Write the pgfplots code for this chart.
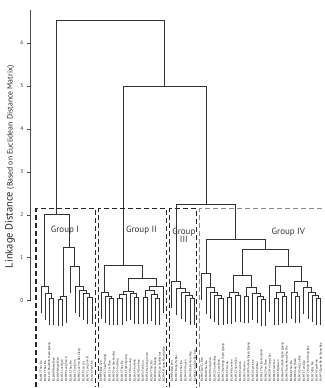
\documentclass[border=0pt]{standalone}
\usepackage{pgfplots}
\usepackage{pgfplotstable}
\usepackage{fontspec}
\setmainfont{PT Sans}
\pgfplotsset{compat=1.18}

\pgfplotstableread[col sep=comma]{
x,y,label
41,-1.88,BL.M17 Thac Ba
45.25,-1.88,BL.M17 Thac Ba
49.5,-1.88,BL.1/77 Phu Ninh Tuyen Quang
53.75,-1.88,BL.M08 Nham Bien
58,-1.88,BL.M09 Nham Bien
62.25,-1.88,BL.M21 Luc Ngan
66.5,-1.88,BL.M03 Lang Son A
70.75,-1.88,BL.M11 Thac Ba
75,-1.88,BL.M15 Yen Binh
79.25,-1.88,BL.M02 Luc Yen Bac Giang
83.5,-1.88,BL.M18 Cao Loc
87.75,-1.88,BL.M27 Lang Son B
92,-1.88,BL.M24 Yen The
101,-1.88,BL.M05 Bac Son
105.2,-1.88,BL.M31 Chau Phuong
109.4,-1.88,BL.M12 Lai Chau
113.6,-1.88,BL.M29 Van Yen Yen Bai
117.8,-1.88,BL.M33 Chu Dong
122,-1.88,BL.M13 Thac Ba
126.2,-1.88,BL.M16 Tuyen Quang
130.4,-1.88,BL.M19 Huu Lung
134.6,-1.88,BL.M26 Phu Ninh
138.8,-1.88,BL.M14 Dinh Hoa
143,-1.88,BL.M35 Yen Son
147.2,-1.88,BL.M36 Ha Giang Xuan
151.4,-1.88,BL.M37 Thac Ba
155.6,-1.88,BL.M38 Son Duong
159.8,-1.88,BL.M40 Lao Cai Bat Xat
164,-1.88,BL.M41 Muong Khuong Bay
172,-1.88,BL.M06 Bao Yen
176.6,-1.88,BL.M07 Dong Hy Bac
181.2,-1.88,BL.M42 Thac Ba
185.8,-1.88,BL.M44 Vi Xuyen
190.4,-1.88,BL.M45 Ba Be Nam Mau
195,-1.88,BL.M46 Cho Don Bac Kan
202,-1.88,BL.M47 Dai Tu Ban
206.25,-1.88,BL.M48 Thac Ba
210.5,-1.88,BL.M49 Huong Son
214.75,-1.88,BL.M50 Cho Moi Bac
219,-1.88,BL.M51 Lam Binh
223.25,-1.88,BL.M52 Na Hang Tuyen Quang
227.5,-1.88,BL.M53 Yen Lap
231.75,-1.88,BL.M54 Ham Yen
236,-1.88,BL.M55 Thanh Son
240.25,-1.88,BL.M56 Tan Son
244.5,-1.88,BL.M57 Ha Hoa
248.75,-1.88,BL.M58 Phu Ninh Tuyen Quang
253,-1.88,BL.M59 Cam Khe
257.25,-1.88,BL.M60 Yen Bai
261.5,-1.88,BL.M61 Thac Ba Yen Binh
265.75,-1.88,BL.M62 Van Chan
270,-1.88,BL.M63 Mu Cang Chai
274.25,-1.88,BL.M64 Tram Tau
278.5,-1.88,BL.M65 Nghia Lo
282.75,-1.88,BL.M66 Phu Ninh Tuyen Quang
287,-1.88,BL.M67 Doan Hung Phu Tho
291.25,-1.88,BL.M68 Thac Ba
295.5,-1.88,BL.M69 Lap Thach
299.75,-1.88,BL.M70 Song Lo Bay
304,-1.88,BL.M71 Tam Dao
308.25,-1.88,BL.M72 Hung Son Dong Bay
312.5,-1.88,BL.M73 Bac Me
316.75,-1.88,BL.M74 Yen Minh
321,-1.88,BL.M75 Quan Ba Ha Giang Bay
}\leaflabels

\begin{document}
\begin{tikzpicture}
\begin{axis}[
  scale only axis, width=295pt, height=291pt,
  xmin=30, xmax=325, ymin=0, ymax=6.77,
  axis x line=none, axis y line=left,
  axis line style={-, black!70, line width=0.6pt},
  ytick={0,1,2,3,4,5,6}, tick align=outside, major tick length=3pt,
  tick style={black!70, line width=0.5pt},
  yticklabel style={font=\fontsize{5.5}{5.5}\selectfont, text=black!80},
  /pgf/number format/assume math mode=true,
  clip=false, unbounded coords=jump,
  ylabel={{\fontsize{10.5}{10.5}\selectfont Linkage Distance} {\fontsize{7.8}{7.8}\selectfont(Based on Euclidean Distance Matrix)}},
  ylabel style={at={(axis description cs:-0.068,0.46)}, anchor=center, text=black!85},
]
% bounding box of the whole figure
\path (axis cs:0,-2.02) rectangle (axis cs:325,7.0);

% dendrogram links
\addplot[black!80, line width=0.8pt] coordinates {
(49.5,-0.57)(49.5,0.05)(53.75,0.05)(53.75,-0.57) (nan,nan)
(45.25,-0.46)(45.25,0.16)(51.625,0.16)(51.625,0.05) (nan,nan)
(41,-0.29)(41,0.33)(48.44,0.33)(48.44,0.16) (nan,nan)
(58,-0.59)(58,0.03)(62.25,0.03)(62.25,-0.59) (nan,nan)
(60.125,0.03)(60.125,0.09)(66.5,0.09)(66.5,-0.53) (nan,nan)
(87.75,-0.54)(87.75,0.08)(92,0.08)(92,-0.54) (nan,nan)
(83.5,-0.44)(83.5,0.18)(89.875,0.18)(89.875,0.08) (nan,nan)
(79.25,-0.39)(79.25,0.23)(86.69,0.23)(86.69,0.18) (nan,nan)
(75,-0.29)(75,0.33)(82.97,0.33)(82.97,0.23) (nan,nan)
(70.75,0.18)(70.75,0.8)(78.98,0.8)(78.98,0.33) (nan,nan)
(63.31,0.09)(63.31,1.23)(74.87,1.23)(74.87,0.8) (nan,nan)
(44.72,0.33)(44.72,2.0)(69.09,2.0)(69.09,1.23) (nan,nan)
(109.4,-0.57)(109.4,0.05)(113.6,0.05)(113.6,-0.57) (nan,nan)
(105.2,-0.52)(105.2,0.1)(111.5,0.1)(111.5,0.05) (nan,nan)
(101,-0.43)(101,0.19)(108.35,0.19)(108.35,0.1) (nan,nan)
(117.8,-0.57)(117.8,0.05)(122,0.05)(122,-0.57) (nan,nan)
(119.9,0.05)(119.9,0.14)(126.2,0.14)(126.2,-0.48) (nan,nan)
(134.6,-0.54)(134.6,0.08)(138.8,0.08)(138.8,-0.54) (nan,nan)
(130.4,-0.46)(130.4,0.16)(136.7,0.16)(136.7,0.08) (nan,nan)
(123.05,0.14)(123.05,0.21)(133.55,0.21)(133.55,0.16) (nan,nan)
(143,-0.54)(143,0.08)(147.2,0.08)(147.2,-0.54) (nan,nan)
(155.6,-0.56)(155.6,0.06)(159.8,0.06)(159.8,-0.56) (nan,nan)
(151.4,-0.48)(151.4,0.14)(157.7,0.14)(157.7,0.06) (nan,nan)
(145.1,0.08)(145.1,0.24)(154.55,0.24)(154.55,0.14) (nan,nan)
(149.825,0.24)(149.825,0.33)(164,0.33)(164,-0.29) (nan,nan)
(128.3,0.21)(128.3,0.51)(156.91,0.51)(156.91,0.33) (nan,nan)
(104.675,0.19)(104.675,0.81)(142.6,0.81)(142.6,0.51) (nan,nan)
(190.4,-0.57)(190.4,0.05)(195,0.05)(195,-0.57) (nan,nan)
(185.8,-0.5)(185.8,0.12)(192.7,0.12)(192.7,0.05) (nan,nan)
(181.2,-0.43)(181.2,0.19)(189.25,0.19)(189.25,0.12) (nan,nan)
(176.6,-0.34)(176.6,0.28)(185.225,0.28)(185.225,0.19) (nan,nan)
(172,-0.18)(172,0.44)(180.91,0.44)(180.91,0.28) (nan,nan)
(219,-0.57)(219,0.05)(223.25,0.05)(223.25,-0.57) (nan,nan)
(214.75,-0.5)(214.75,0.12)(221.125,0.12)(221.125,0.05) (nan,nan)
(210.5,-0.42)(210.5,0.2)(217.94,0.2)(217.94,0.12) (nan,nan)
(206.25,-0.32)(206.25,0.3)(214.22,0.3)(214.22,0.2) (nan,nan)
(202,0.01)(202,0.63)(210.23,0.63)(210.23,0.3) (nan,nan)
(227.5,-0.54)(227.5,0.08)(231.75,0.08)(231.75,-0.54) (nan,nan)
(236,-0.5)(236,0.12)(240.25,0.12)(240.25,-0.5) (nan,nan)
(229.625,0.08)(229.625,0.2)(238.125,0.2)(238.125,0.12) (nan,nan)
(244.5,-0.52)(244.5,0.1)(248.75,0.1)(248.75,-0.52) (nan,nan)
(261.5,-0.58)(261.5,0.04)(265.75,0.04)(265.75,-0.58) (nan,nan)
(257.25,-0.52)(257.25,0.1)(263.625,0.1)(263.625,0.04) (nan,nan)
(253,-0.44)(253,0.18)(260.44,0.18)(260.44,0.1) (nan,nan)
(246.625,0.1)(246.625,0.3)(256.72,0.3)(256.72,0.18) (nan,nan)
(233.875,0.2)(233.875,0.6)(251.67,0.6)(251.67,0.3) (nan,nan)
(274.25,-0.57)(274.25,0.05)(278.5,0.05)(278.5,-0.57) (nan,nan)
(282.75,-0.52)(282.75,0.1)(287,0.1)(287,-0.52) (nan,nan)
(276.375,0.05)(276.375,0.2)(284.875,0.2)(284.875,0.1) (nan,nan)
(270,-0.27)(270,0.35)(280.625,0.35)(280.625,0.2) (nan,nan)
(295.5,-0.52)(295.5,0.1)(299.75,0.1)(299.75,-0.52) (nan,nan)
(291.25,-0.42)(291.25,0.2)(297.625,0.2)(297.625,0.1) (nan,nan)
(316.75,-0.57)(316.75,0.05)(321,0.05)(321,-0.57) (nan,nan)
(312.5,-0.5)(312.5,0.12)(318.875,0.12)(318.875,0.05) (nan,nan)
(308.25,-0.42)(308.25,0.2)(315.69,0.2)(315.69,0.12) (nan,nan)
(304,-0.32)(304,0.3)(311.97,0.3)(311.97,0.2) (nan,nan)
(294.44,0.2)(294.44,0.45)(307.985,0.45)(307.985,0.3) (nan,nan)
(275.31,0.35)(275.31,0.79)(301.21,0.79)(301.21,0.45) (nan,nan)
(242.77,0.6)(242.77,1.2)(288.26,1.2)(288.26,0.79) (nan,nan)
(206.12,0.63)(206.12,1.42)(265.515,1.42)(265.515,1.2) (nan,nan)
(176.46,0.44)(176.46,2.25)(235.82,2.25)(235.82,1.42) (nan,nan)
(123.64,0.81)(123.64,5.0)(206.14,5.0)(206.14,2.25) (nan,nan)
(56.9,2.0)(56.9,6.53)(164.89,6.53)(164.89,5.0)
};

% group boxes (dashed)
\addplot[black!85, line width=1.1pt, dash pattern=on 5pt off 3pt] coordinates {
(36,-2.02)(36,2.14)(96,2.14)(96,-2.02) (nan,nan)
(99,-2.02)(99,2.14)(167,2.14)(167,-2.02) (nan,nan)
(170,-2.02)(170,2.14)(197,2.14)(197,-2.02)
};
\addplot[black!45, line width=1.1pt, dash pattern=on 5pt off 3pt] coordinates {
(200,-2.02)(200,2.14)(323,2.14)
};

% leaf labels
\addplot[only marks, mark=*, mark size=0pt,
  mark options={draw opacity=0, fill opacity=0},
  nodes near coords, point meta=explicit symbolic,
  nodes near coords style={rotate=90, anchor=west, inner sep=0pt,
    font=\fontsize{2.9}{2.9}\selectfont, text=black, text opacity=1}]
  table[x=x, y=y, meta=label] {\leaflabels};

% group names
\node[font=\fontsize{9}{9}\selectfont, text=black!80] at (axis cs:65,1.65) {Group I};
\node[font=\fontsize{9}{9}\selectfont, text=black!80] at (axis cs:141.5,1.65) {Group II};
\node[font=\fontsize{9}{9}\selectfont, text=black!80, align=center, inner sep=0pt] at (axis cs:184,1.52) {Group\\[-1pt]III};
\node[font=\fontsize{9}{9}\selectfont, text=black!80] at (axis cs:288.5,1.6) {Group IV};
\end{axis}
\end{tikzpicture}
\end{document}
